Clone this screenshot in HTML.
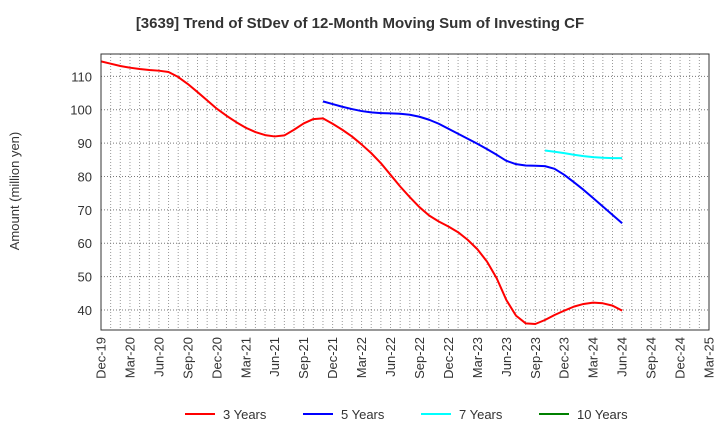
<!DOCTYPE html>
<html><head><meta charset="utf-8"><style>
body{margin:0;background:#fff;font-family:"Liberation Sans",Arial,sans-serif;}
svg text{font-family:"Liberation Sans",Arial,sans-serif;}
</style></head><body>
<svg id="chart" width="720" height="440" xmlns="http://www.w3.org/2000/svg">
<text x="360" y="28" text-anchor="middle" font-size="15" font-weight="bold" fill="#333">[3639]  Trend of StDev of 12-Month Moving Sum of Investing CF</text>
<text transform="translate(19,191) rotate(-90)" text-anchor="middle" font-size="13" fill="#333">Amount (million yen)</text>
<g id="grid"></g><g id="series"></g><g id="axes"></g>
<g id="legend"></g>
</svg>
<script>
const xLabels=["Dec-19","Mar-20","Jun-20","Sep-20","Dec-20","Mar-21","Jun-21","Sep-21","Dec-21","Mar-22","Jun-22","Sep-22","Dec-22","Mar-23","Jun-23","Sep-23","Dec-23","Mar-24","Jun-24","Sep-24","Dec-24","Mar-25"];
const yTicks=[40,50,60,70,80,90,100,110];
const seriesNames=["3 Years","5 Years","7 Years","10 Years"];
const seriesColors=["#ff0000","#0000ff","#00ffff","#008000"];
const y3Start=0;
const y3=[114.5,113.8,113.1,112.6,112.2,111.9,111.7,111.3,109.8,107.7,105.3,102.8,100.3,98.2,96.3,94.6,93.3,92.4,92.0,92.3,94.0,95.9,97.2,97.4,95.8,94.0,92.0,89.6,87,84,80.5,77,73.8,70.8,68.3,66.5,65,63.3,61,58.2,54.5,49.5,43,38.3,36,35.8,37,38.5,39.8,41,41.8,42.2,42,41.3,39.8];
const y5Start=23;
const y5=[102.5,101.7,100.9,100.2,99.6,99.2,99,98.9,98.8,98.5,97.9,97.0,95.8,94.3,92.8,91.3,89.8,88.2,86.5,84.7,83.7,83.3,83.2,83.1,82.3,80.5,78.3,76.0,73.5,71,68.5,66];
const y7Start=46;
const y7=[87.8,87.4,87,86.5,86.1,85.8,85.6,85.5,85.5];
const y10=[];
const X0=101,X1=709,Y0=330,YT=54;
const yMin=34,yMax=116.7;
const xs=m=>X0+(X1-X0)*m/63;
const ys=v=>Y0-(v-yMin)/(yMax-yMin)*(Y0-YT);
const NS="http://www.w3.org/2000/svg";
function mk(t,a,p){const e=document.createElementNS(NS,t);for(const k in a)e.setAttribute(k,a[k]);p.appendChild(e);return e;}
const grid=document.getElementById('grid'),axes=document.getElementById('axes'),ser=document.getElementById('series'),leg=document.getElementById('legend');
for(let m=1;m<63;m++){const l=mk('line',{x1:xs(m),x2:xs(m),y1:YT,y2:Y0,stroke:'#999','stroke-width':1,'stroke-dasharray':'1,2'},grid);

}
yTicks.forEach(v=>{const l=mk('line',{x1:X0,x2:X1,y1:ys(v),y2:ys(v),stroke:'#777','stroke-width':1,'stroke-dasharray':'1,2'},grid);


const t=mk('text',{x:92,y:ys(v)+5,'text-anchor':'end','font-size':13,fill:'#333'},axes);t.textContent=v;

});
const r=mk('rect',{x:X0,y:YT,width:X1-X0,height:Y0-YT,fill:'none',stroke:'#333','stroke-width':1},axes);


xLabels.forEach((s,i)=>{const x=xs(i*3);const t=mk('text',{transform:`translate(${x+4.5},${Y0+7}) rotate(-90)`,'text-anchor':'end','font-size':13,fill:'#333'},axes);t.textContent=s;

});
[[y3,y3Start],[y5,y5Start],[y7,y7Start],[y10,0]].forEach(([d,s],i)=>{if(!d.length)return;
const p=mk('polyline',{points:d.map((v,j)=>xs(s+j)+','+ys(v)).join(' '),fill:'none',stroke:seriesColors[i],'stroke-width':2,'stroke-linejoin':'round'},ser);

});
const lx=[185,303,421,539];
seriesNames.forEach((n,i)=>{const g=mk('g',{},leg);


mk('line',{x1:lx[i],x2:lx[i]+30,y1:414,y2:414,stroke:seriesColors[i],'stroke-width':2},g);
const t=mk('text',{x:lx[i]+38,y:419,'font-size':13,fill:'#333'},g);t.textContent=n;});
</script>
</body></html>
